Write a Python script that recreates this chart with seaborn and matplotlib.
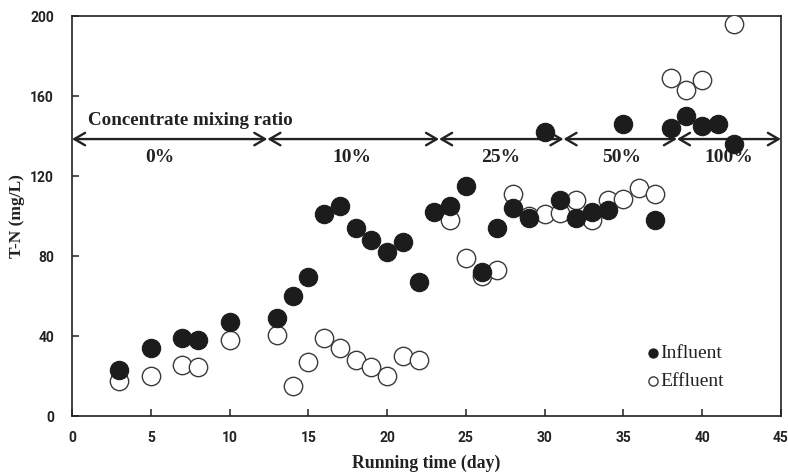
import matplotlib
matplotlib.use("Agg")
import matplotlib.pyplot as plt
import seaborn as sns
import pandas as pd

days_inf = [3, 5, 7, 8, 10, 13, 14, 15, 16, 17, 18, 19, 20, 21, 22, 23, 24, 25, 26, 27,
            28, 29, 30, 31, 32, 33, 34, 35, 37, 38, 39, 40, 41, 42]
tn_inf = [23, 34, 39, 38, 47, 49, 60, 69.5, 101, 105, 94, 88, 82, 87, 67, 102, 105, 115, 72, 94,
          104, 99, 142, 108, 99, 102, 103, 146, 98, 144, 150, 145, 146, 136]

days_eff = [3, 5, 7, 8, 10, 13, 14, 15, 16, 17, 18, 19, 20, 21, 22, 24, 25, 26, 27,
            28, 29, 30, 31, 32, 33, 34, 35, 36, 37, 38, 39, 40, 42]
tn_eff = [17.5, 20, 25.5, 24.5, 38, 40.5, 15, 27, 39, 34, 28, 24.5, 20, 30, 28, 98, 79, 70, 73,
          111, 100, 101, 101.5, 108, 98, 108, 108.5, 114, 111, 169, 163, 168, 196]

phase_bounds = [0, 12.4, 23.3, 31.2, 38.4, 45]
phase_labels = ["0%", "10%", "25%", "50%", "100%"]
phase_label_x = [5.6, 17.8, 27.2, 34.9, 41.7]
arrow_y = 138.5
phase_label_y = 129.5
title_text = "Concentrate mixing ratio"

df = pd.concat([
    pd.DataFrame({"day": days_inf, "tn": tn_inf, "series": "Influent"}),
    pd.DataFrame({"day": days_eff, "tn": tn_eff, "series": "Effluent"}),
], ignore_index=True)

sns.set_style("ticks")
plt.rcParams["font.family"] = ["Liberation Serif", "DejaVu Serif"]

fig = plt.figure(figsize=(7.88, 4.73), dpi=100)
ax = fig.add_axes([0.0914, 0.1205, 0.8996, 0.8455])

sns.scatterplot(data=df[df.series == "Effluent"], x="day", y="tn", ax=ax,
                marker="o", s=175, facecolor="white", edgecolor="#3a3a3a",
                linewidth=1.0, label="Effluent", zorder=3)
sns.scatterplot(data=df[df.series == "Influent"], x="day", y="tn", ax=ax,
                marker="o", s=175, color="#1c1c1c", edgecolor="#1c1c1c",
                linewidth=0.8, label="Influent", zorder=4)

ax.set_xlim(0, 45)
ax.set_ylim(0, 200)
ax.set_xticks(range(0, 46, 5))
ax.set_yticks(range(0, 201, 40))
ax.tick_params(direction="in", length=5, width=1.1, color="#222")
ax.tick_params(axis="x", pad=11)
ax.tick_params(axis="y", pad=13)
for lab in ax.get_xticklabels() + ax.get_yticklabels():
    lab.set_fontfamily("Roboto")
    lab.set_fontweight("bold")
    lab.set_fontsize(10)
    lab.set_color("#222")
for sp in ax.spines.values():
    sp.set_visible(True)
    sp.set_linewidth(1.2)
    sp.set_color("#222")

ax.set_xlabel("Running time (day)", fontsize=12.8, fontweight="bold", color="#222", labelpad=7)
ax.set_ylabel("T-N (mg/L)", fontsize=12.5, fontweight="bold", color="#222")
ax.yaxis.set_label_coords(-0.066, 0.5)

for a, b in zip(phase_bounds[:-1], phase_bounds[1:]):
    ax.annotate("", xy=(b, arrow_y), xytext=(a, arrow_y),
                arrowprops=dict(arrowstyle="<->,head_length=0.55,head_width=0.32",
                                mutation_scale=14, lw=1.7, color="#222",
                                shrinkA=0, shrinkB=0), zorder=2)
for x, t in zip(phase_label_x, phase_labels):
    ax.text(x, phase_label_y, t, ha="center", va="center", fontsize=14,
            fontweight="bold", color="#222")
ax.text(7.5, 148, title_text, ha="center", va="center", fontsize=13.7,
        fontweight="bold", color="#222")

handles, labels = ax.get_legend_handles_labels()
order = [labels.index("Influent"), labels.index("Effluent")]
leg = ax.legend([handles[i] for i in order], [labels[i] for i in order],
                loc="center left", bbox_to_anchor=(0.792, 0.122),
                frameon=False, markerscale=0.5, handletextpad=-0.1,
                handlelength=1.0, labelspacing=0.55, borderpad=0,
                prop={"family": "Liberation Serif", "size": 14})
for t in leg.get_texts():
    t.set_color("#222")

fig.savefig("out.png", dpi=100)
